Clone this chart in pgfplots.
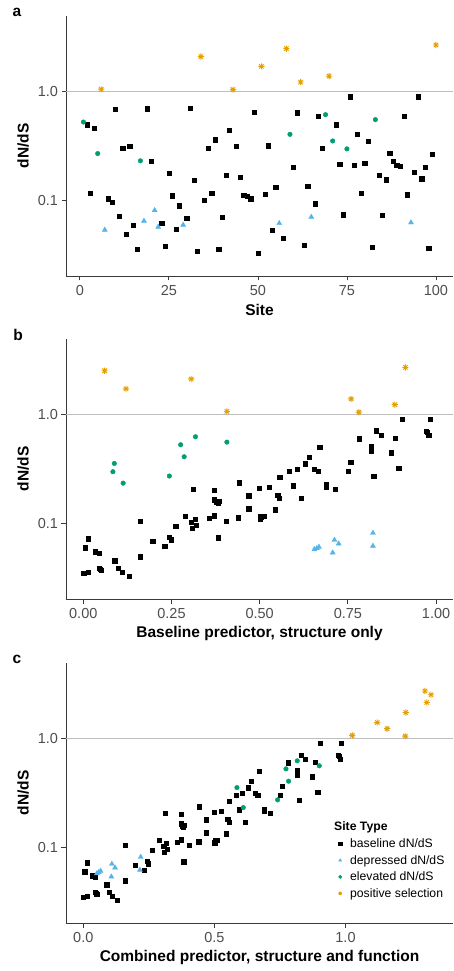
\documentclass[border=0pt]{standalone}
\usepackage{pgfplots}
\pgfplotsset{compat=1.18}
\usepackage{fontspec}
\setmainfont{Liberation Sans}

\definecolor{cblue}{HTML}{56B4E9}
\definecolor{cgreen}{HTML}{009E73}
\definecolor{corange}{HTML}{E69F00}
\definecolor{axgray}{HTML}{3A3A3A}
\definecolor{tickgray}{HTML}{4D4D4D}
\definecolor{refline}{HTML}{BEBEBE}

\newcommand\tickfont{\fontsize{14.5}{16}\selectfont}
\newcommand\titlefont{\fontsize{15.5}{18}\selectfont\bfseries}
\newcommand\legfont{\fontsize{12.2}{14}\selectfont}

% ggplot shape 8: a plus and a cross on top of each other
\pgfdeclareplotmark{gstar}{%
  \pgfpathmoveto{\pgfqpoint{-\pgfplotmarksize}{0pt}}%
  \pgfpathlineto{\pgfqpoint{\pgfplotmarksize}{0pt}}%
  \pgfpathmoveto{\pgfqpoint{0pt}{-\pgfplotmarksize}}%
  \pgfpathlineto{\pgfqpoint{0pt}{\pgfplotmarksize}}%
  \pgfpathmoveto{\pgfqpoint{-0.707\pgfplotmarksize}{-0.707\pgfplotmarksize}}%
  \pgfpathlineto{\pgfqpoint{0.707\pgfplotmarksize}{0.707\pgfplotmarksize}}%
  \pgfpathmoveto{\pgfqpoint{-0.707\pgfplotmarksize}{0.707\pgfplotmarksize}}%
  \pgfpathlineto{\pgfqpoint{0.707\pgfplotmarksize}{-0.707\pgfplotmarksize}}%
  \pgfusepathqstroke}

\pgfplotsset{
  every axis/.append style={
    scale only axis, width=387pt, height=260pt,
    axis x line*=bottom, axis y line*=left,
    axis line style={axgray, line width=0.8pt},
    tick style={axgray, line width=0.8pt},
    tick align=outside, major tick length=4.5pt,
    ticklabel style={font=\tickfont, text=tickgray},
    xticklabel style={yshift=-1.5pt},
    ylabel={dN/dS},
    label style={font=\titlefont},
    ylabel style={at={(axis description cs:-0.111,0.5)}, anchor=center},
    xlabel style={at={(axis description cs:0.5,-0.131)}, anchor=center},
    clip=false,
  },
  sblk/.style={only marks, mark=square*, mark size=2.1pt, black},
  sblu/.style={only marks, mark=triangle*, mark size=2.9pt, cblue},
  sgrn/.style={only marks, mark=*, mark size=2.3pt, cgreen},
  sorg/.style={only marks, mark=gstar, mark size=3.1pt, corange, line width=0.9pt},
}

% baseline sites: baseline predictor (same value in the combined predictor) and dN/dS
\pgfplotstableread{
x y
0.161 0.104
0.015 0.0724
0.005 0.0598
0.033 0.0550
0.044 0.0531
0.089 0.0455
0.161 0.0495
0.001 0.0346
0.015 0.0357
0.045 0.0387
0.051 0.0371
0.048 0.0380
0.098 0.0387
0.110 0.0357
0.130 0.0329
0.197 0.0688
0.231 0.0619
0.244 0.0744
0.249 0.0709
0.262 0.0938
0.288 0.1167
0.311 0.205
0.307 0.102
0.308 0.090
0.317 0.110
0.319 0.097
0.372 0.202
0.372 0.165
0.378 0.158
0.386 0.160
0.382 0.155
0.358 0.111
0.372 0.1177
0.404 0.105
0.383 0.0739
0.442 0.236
0.440 0.1128
0.469 0.1795
0.469 0.1364
0.499 0.212
0.527 0.214
0.503 0.115
0.501 0.1104
0.512 0.1167
0.545 0.1334
0.551 0.182
0.556 0.1706
0.557 0.266
0.583 0.300
0.595 0.222
0.607 0.315
0.618 0.1706
0.629 0.353
0.641 0.406
0.655 0.313
0.665 0.302
0.670 0.501
0.689 0.226
0.689 0.214
0.714 0.205
0.750 0.300
0.758 0.365
0.781 0.598
0.815 0.506
0.815 0.461
0.823 0.272
0.830 0.708
0.845 0.646
0.872 0.446
0.884 0.602
0.894 0.322
0.904 0.906
0.971 0.703
0.975 0.690
0.979 0.646
0.983 0.900
}\basetab

\begin{document}
\begin{tikzpicture}
\useasboundingbox (0,0) rectangle (453pt,-971pt);

% ---------- a ----------
\begin{axis}[at={(66pt,-276pt)}, anchor=south west,
  ymode=log, ymin=0.0202, ymax=4.93,
  ytick={0.1,1}, yticklabels={0.1,1.0}, yminorticks=false,
  /pgf/number format/assume math mode=true,
  xmin=-3.9, xmax=104.8, xtick={0,25,50,75,100}, xlabel={Site}]
\addplot[refline, line width=0.7pt, forget plot] coordinates {(-3.9,1) (104.8,1)};
\addplot[sblk] coordinates {
(2,0.496) (3,0.1167) (4,0.459) (8,0.1035) (9,0.0966) (10,0.689) (11,0.0714)
(12,0.299) (13,0.0489) (14,0.312) (15,0.0591) (16,0.0356) (19,0.694) (20,0.2274)
(23,0.0616) (24,0.0380) (25,0.179) (26,0.1103) (27,0.0543) (28,0.0893) (30,0.0685)
(31,0.699) (32,0.1535) (33,0.0344) (35,0.1007) (36,0.299) (37,0.1159) (38,0.361)
(39,0.0356) (40,0.0699) (41,0.1706) (42,0.440) (44,0.314) (45,0.1623) (46,0.1119)
(47,0.1096) (48,0.1035) (49,0.643) (50,0.0325) (52,0.1143) (53,0.318) (54,0.0528)
(55,0.1324) (57,0.0452) (60,0.2004) (61,0.638) (63,0.0385) (64,0.1352) (66,0.0932)
(67,0.591) (68,0.299) (72,0.496) (73,0.2149) (74,0.0739) (76,0.894) (77,0.2119)
(78,0.404) (79,0.1159) (80,0.218) (81,0.349) (82,0.0374) (84,0.1694) (85,0.0734)
(86,0.1545) (87,0.271) (88,0.2306) (89,0.2119) (90,0.2046) (91,0.595) (92,0.1127)
(94,0.1803) (95,0.894) (96,0.1578) (97,0.2032) (98,0.0366) (99,0.2635)
};
\addplot[sblu] coordinates {
(7,0.0535) (18,0.0647) (21,0.0810) (22,0.0570) (29,0.0595) (56,0.0616) (65,0.0704) (93,0.0625)
};
\addplot[sgrn] coordinates {
(1,0.524) (5,0.269) (17,0.2306) (59,0.404) (69,0.612) (71,0.351) (75,0.297) (83,0.551)
};
\addplot[sorg] coordinates {
(6,1.05) (34,2.09) (43,1.04) (51,1.70) (58,2.47) (62,1.22) (70,1.38) (100,2.67)
};
\end{axis}

% ---------- b ----------
\begin{axis}[at={(66pt,-599pt)}, anchor=south west,
  ymode=log, ymin=0.0202, ymax=4.93,
  ytick={0.1,1}, yticklabels={0.1,1.0}, yminorticks=false,
  /pgf/number format/assume math mode=true,
  xmin=-0.049, xmax=1.048, xtick={0,0.25,0.5,0.75,1},
  xticklabels={0.00,0.25,0.50,0.75,1.00},
  xlabel={Baseline predictor, structure only}]
\addplot[refline, line width=0.7pt, forget plot] coordinates {(-0.049,1) (1.048,1)};
\addplot[sblk] table {\basetab};
\addplot[sblu] coordinates {
(0.655,0.0577) (0.662,0.059) (0.668,0.0607) (0.707,0.0538) (0.712,0.0703) (0.724,0.0651) (0.821,0.0815) (0.821,0.0620)
};
\addplot[sgrn] coordinates {
(0.088,0.355) (0.084,0.298) (0.113,0.234) (0.244,0.272) (0.276,0.527) (0.286,0.409) (0.318,0.624) (0.407,0.557)
};
\addplot[sorg] coordinates {
(0.0605,2.52) (0.121,1.72) (0.306,2.12) (0.407,1.065) (0.759,1.39) (0.781,1.05) (0.883,1.23) (0.913,2.70)
};
\end{axis}

% ---------- c ----------
\begin{axis}[at={(66pt,-923pt)}, anchor=south west,
  ymode=log, ymin=0.0202, ymax=4.93,
  ytick={0.1,1}, yticklabels={0.1,1.0}, yminorticks=false,
  /pgf/number format/assume math mode=true,
  xmin=-0.066, xmax=1.41, xtick={0,0.5,1},
  xticklabels={0.0,0.5,1.0},
  xlabel={Combined predictor, structure and function},
  legend style={draw=none, fill=none, inner sep=0pt, font=\legfont,
    at={(axis description cs:0.695,0.333)}, anchor=north west, row sep=2.2pt},
  legend cell align=left,
  legend image code/.code={%
    \path[draw=none, fill=none] (-5pt,0pt) -- (8pt,0pt);
    \draw[#1, mark size=1.7pt] plot coordinates {(0pt,0pt)};}]
\addplot[refline, line width=0.7pt, forget plot] coordinates {(-0.066,1) (1.41,1)};
\addplot[sgrn, forget plot] coordinates {(0.585,0.298)};
\addplot[sblk] table {\basetab};
\addlegendentry{baseline dN/dS}
\addplot[sblu] coordinates {
(0.052,0.0577) (0.059,0.059) (0.066,0.0607) (0.107,0.0538) (0.109,0.0703) (0.121,0.0651) (0.219,0.0815) (0.216,0.0620)
};
\addlegendentry{depressed dN/dS}
\addplot[sgrn] coordinates {
(0.586,0.354) (0.610,0.232) (0.741,0.273) (0.773,0.526) (0.783,0.405) (0.816,0.623) (0.900,0.561)
};
\addlegendentry{elevated dN/dS}
\addplot[sorg] coordinates {
(1.026,1.066) (1.121,1.40) (1.159,1.23) (1.230,1.73) (1.228,1.05) (1.303,2.73) (1.326,2.52) (1.310,2.14)
};
\addlegendentry{positive selection}
\end{axis}

\node[anchor=west, font=\legfont\bfseries, inner sep=0pt] at (334pt,-827pt) {Site Type};
\node[font=\titlefont, inner sep=0pt] at (17pt,-12pt) {a};
\node[font=\titlefont, inner sep=0pt] at (18pt,-335pt) {b};
\node[font=\titlefont, inner sep=0pt] at (17pt,-659pt) {c};
\end{tikzpicture}
\end{document}
